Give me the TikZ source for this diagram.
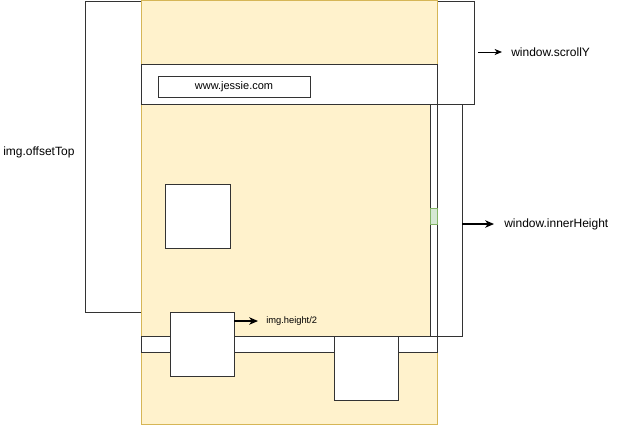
\documentclass[tikz,border=0pt]{standalone}
\usepackage{fontspec}
\setmainfont{Liberation Sans}
\usetikzlibrary{arrows.meta}
\definecolor{pagefill}{HTML}{FFF2CC}
\definecolor{pageline}{HTML}{D6B656}
\definecolor{thumbfill}{HTML}{D5E8D4}
\definecolor{thumbline}{HTML}{82B366}
\definecolor{ink}{HTML}{333333}
\tikzset{
  x=0.75pt, y=-0.75pt,
  box/.style={draw=ink, fill=white, line width=0.75pt, inner sep=0pt, outer sep=0pt, anchor=north west},
  page/.style={box, draw=pageline, fill=pagefill},
  thumb/.style={box, draw=thumbline, fill=thumbfill},
  lbl/.style={inner sep=0pt, anchor=west, font=\fontsize{9pt}{10pt}\selectfont},
  arr/.style={line width=0.75pt, -{Stealth[length=5.5pt, width=4.5pt, inset=1.5pt]}},
  thickarr/.style={line width=1.3pt, -{Stealth[length=6.5pt, width=5.5pt, inset=1.8pt]}},
}
% a rectangle from its top left corner (px) and its size (px)
\newcommand\pxbox[6]{\node[#1, minimum width=#4*0.75pt, minimum height=#5*0.75pt] (#2) at (#3) {#6};}
\begin{document}
\begin{tikzpicture}
\useasboundingbox (0,0) rectangle (627,425);

% scrolled-away part of the document and the offset of the image
\pxbox{box}{scrolled}{85,1}{389}{103}{}
\pxbox{box}{offset}{85,1}{56}{311}{}

% the page
\pxbox{page}{pagebg}{141,0}{296}{424}{}

% browser chrome with the address field
\pxbox{box}{chrome}{141,64}{296}{40}{}
\pxbox{box}{url}{158,76}{152}{21}{\fontsize{8.25pt}{9pt}\selectfont www.jessie.com}

% visible viewport and its scrollbar
\pxbox{box}{viewport}{437,104}{25}{232}{}
\pxbox{box}{scrollbar}{430,104}{7}{232}{}
\pxbox{thumb}{thumbbar}{430,208}{7}{16}{}

% images on the page
\pxbox{box}{imgtop}{165,184}{65}{64}{}
\pxbox{box}{foldline}{141,336}{296}{16}{}
\pxbox{box}{imgmid}{170,312}{64}{64}{}
\pxbox{box}{imglow}{334,336}{64}{64}{}

% labels
\node[lbl] (lscroll) at (511,52) {window.scrollY};
\node[lbl] (linner) at (504,224) {window.innerHeight};
\node[lbl] (loffset) at (3,152) {img.offsetTop};
\node[lbl, font=\fontsize{7pt}{8pt}\selectfont] (lhalf) at (266,321) {img.height/2};

% arrows
\coordinate (sy0) at (478,52);
\coordinate (sy1) at (502,52);
\draw[arr] (sy0) -- (sy1);
\coordinate (ih1) at (494,224);
\draw[thickarr] (viewport.east |- ih1) -- (ih1);
\coordinate (hh1) at (258,321);
\draw[thickarr] (imgmid.east |- hh1) -- (hh1);
\end{tikzpicture}
\end{document}
